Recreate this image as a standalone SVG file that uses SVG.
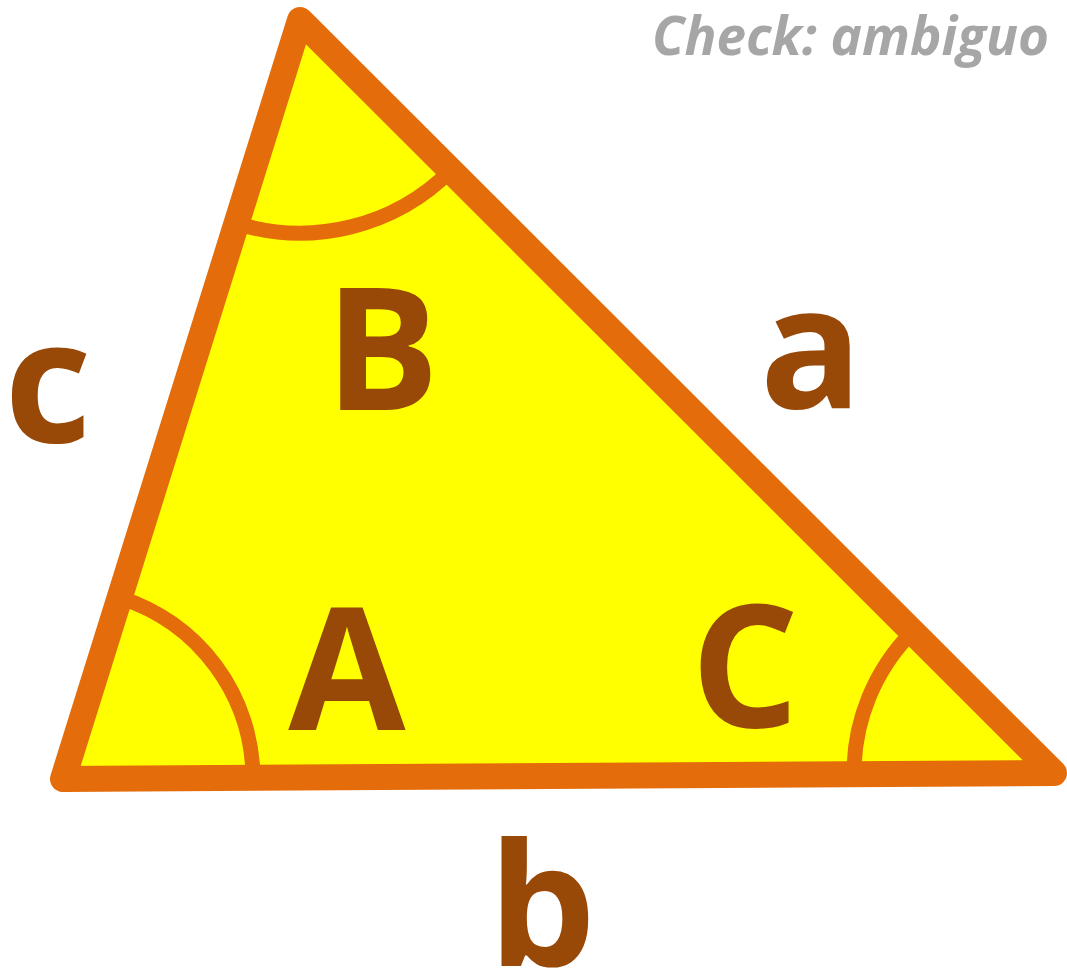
<svg xmlns="http://www.w3.org/2000/svg" width="1067" height="978" viewBox="0 0 1067 978">
<style>
.lbl{font-family:"Open Sans","Noto Sans","Liberation Sans",sans-serif;font-weight:bold;font-size:170px;fill:#984807;text-anchor:middle}
.arc{fill:none;stroke:#E46C0A;stroke-width:15}
.note{font-family:"Open Sans","Noto Sans","Liberation Sans",sans-serif;font-weight:bold;font-style:italic;font-size:53px;fill:#A6A6A6}
</style>
<rect width="1067" height="978" fill="#FFFFFF"/>
<g id="triangle">
<polygon points="300,20 63,779 1054,773" fill="#FFFF00"/>
<path class="arc" d="M119.6,597.6 A190,190 0 0 1 253,778"/>
<path class="arc" d="M236.5,223.4 A213,213 0 0 0 450.7,170.5"/>
<path class="arc" d="M854,774.2 A200,200 0 0 1 912.5,631.7"/>
<polygon points="300,20 63,779 1054,773" fill="none" stroke="#E46C0A" stroke-width="26" stroke-linejoin="round"/>
</g>
<g id="labels">
<text class="lbl" x="382" y="410">B</text>
<text class="lbl" x="811" y="408">a</text>
<text class="lbl" x="48" y="442">c</text>
<text class="lbl" x="347" y="730">A</text>
<text class="lbl" x="745" y="727">C</text>
<text class="lbl" x="542" y="966">b</text>
</g>
<g id="note">
<text class="note" x="652" y="55">Check: ambiguo</text>
</g>
</svg>
